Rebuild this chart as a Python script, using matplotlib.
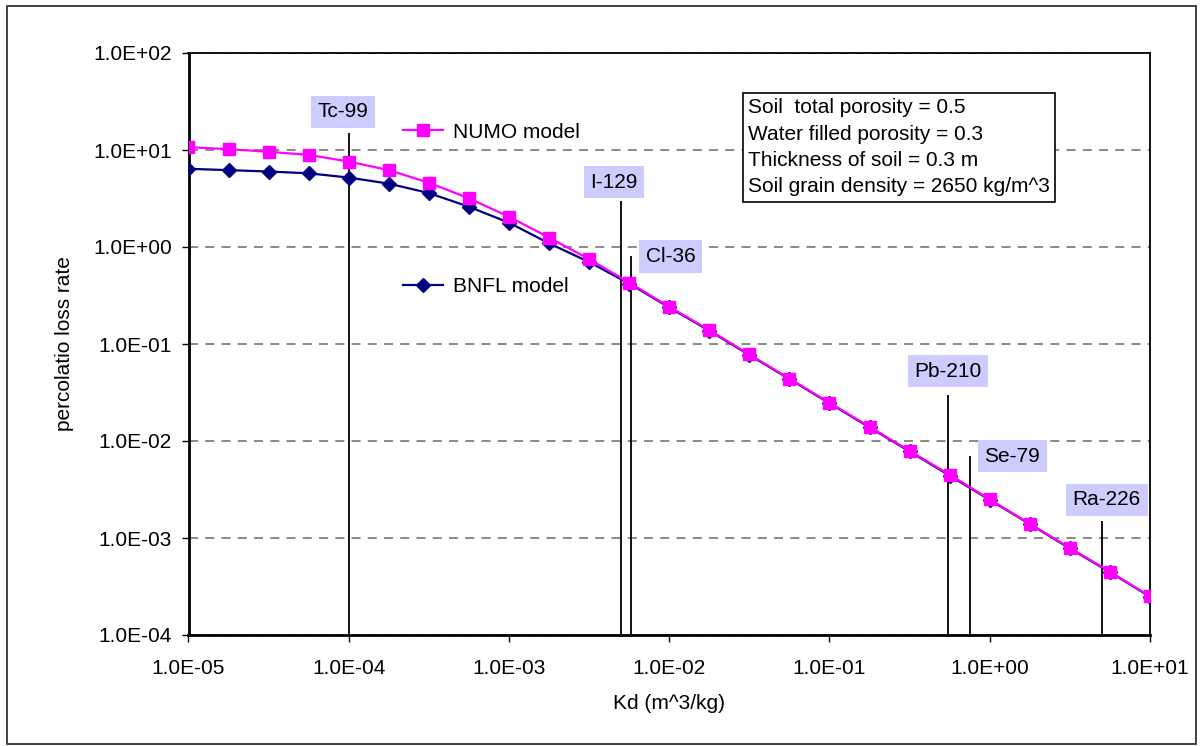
import matplotlib
matplotlib.use("Agg")
import matplotlib.pyplot as plt
from matplotlib.patches import Rectangle
from matplotlib.ticker import FixedLocator, FuncFormatter, NullLocator

plt.rcParams['font.family'] = ['Liberation Sans', 'DejaVu Sans']

# ---------------- data ----------------
kd = [1.0e-5, 1.78e-5, 3.16e-5, 5.62e-5,
      1.0e-4, 1.78e-4, 3.16e-4, 5.62e-4,
      1.0e-3, 1.78e-3, 3.16e-3, 5.62e-3,
      1.0e-2, 1.78e-2, 3.16e-2, 5.62e-2,
      1.0e-1, 1.78e-1, 3.16e-1, 5.62e-1,
      1.0, 1.78, 3.16, 5.62, 10.0]

numo = [10.7, 10.2, 9.6, 8.9,
        7.6, 6.2, 4.6, 3.18,
        2.05, 1.25, 0.75, 0.43,
        0.242, 0.139, 0.078, 0.044,
        0.0248, 0.014, 0.0079, 0.0045,
        0.0025, 0.0014, 0.00079, 0.00045, 0.00025]

bnfl = [6.4, 6.2, 6.0, 5.75,
        5.2, 4.5, 3.6, 2.6,
        1.78, 1.09, 0.70, 0.42,
        0.238, 0.137, 0.077, 0.0435,
        0.0245, 0.0138, 0.0078, 0.0044,
        0.00247, 0.00139, 0.00078, 0.000445, 0.000248]

nuclides = ['Tc-99', 'I-129', 'Cl-36', 'Pb-210', 'Se-79', 'Ra-226']
nuclide_kd = [1.0e-4, 5.0e-3, 5.75e-3, 0.55, 0.75, 5.0]
nuclide_top = [15.0, 3.0, 0.8, 0.03, 0.007, 0.0015]

x_ticks = [1e-5, 1e-4, 1e-3, 1e-2, 1e-1, 1e0, 1e1]
y_ticks = [1e-4, 1e-3, 1e-2, 1e-1, 1e0, 1e1, 1e2]

info_lines = ["Soil  total porosity = 0.5",
              "Water filled porosity = 0.3",
              "Thickness of soil = 0.3 m",
              "Soil grain density = 2650 kg/m^3"]

# ---------------- figure ----------------
W, H = 1200, 746
fig = plt.figure(figsize=(W / 100, H / 100), dpi=100)
ax = fig.add_axes([188.5 / W, 1 - 635 / H, (1150 - 188.5) / W, (635 - 53) / H])

ax.set_xscale('log')
ax.set_yscale('log')
ax.set_xlim(1e-5, 1e1)
ax.set_ylim(1e-4, 1e2)

def fmt(v, pos):
    return "%.1E" % v

ax.xaxis.set_major_locator(FixedLocator(x_ticks))
ax.yaxis.set_major_locator(FixedLocator(y_ticks))
ax.xaxis.set_minor_locator(NullLocator())
ax.yaxis.set_minor_locator(NullLocator())
ax.xaxis.set_major_formatter(FuncFormatter(fmt))
ax.yaxis.set_major_formatter(FuncFormatter(fmt))
ax.tick_params(axis='both', direction='out', length=5, width=1.0, labelsize=15, colors='black')
ax.tick_params(axis='x', pad=12)
ax.tick_params(axis='y', pad=7)

for s in ['left', 'bottom']:
    ax.spines[s].set_linewidth(2.0)
for s in ['top', 'right']:
    ax.spines[s].set_linewidth(1.3)

ax.yaxis.grid(True, which='major', color='#808080', linestyle=(0, (5, 4)), linewidth=1.3)
ax.set_axisbelow(True)

# isotope vertical lines
ax.vlines(nuclide_kd, 1e-4, nuclide_top, colors='black', linewidth=1.3, zorder=2)

# curves
l_bnfl, = ax.plot(kd, bnfl, color='#000080', marker='D', markersize=7,
                  linewidth=1.6, label='BNFL model', zorder=3)
l_numo, = ax.plot(kd, numo, color='#FF00FF', marker='s', markersize=8,
                  linewidth=1.6, label='NUMO model', zorder=4)

# inline legends
leg1 = ax.legend(handles=[l_numo], loc='center left',
                 bbox_to_anchor=((403 - 188.5) / 961.5, (635 - 132) / 582),
                 frameon=False, fontsize=15, borderpad=0, borderaxespad=0,
                 handlelength=1.9, handletextpad=0.5)
ax.add_artist(leg1)
leg2 = ax.legend(handles=[l_bnfl], loc='center left',
                 bbox_to_anchor=((403 - 188.5) / 961.5, (635 - 287) / 582),
                 frameon=False, fontsize=15, borderpad=0, borderaxespad=0,
                 handlelength=1.9, handletextpad=0.5)

# nuclide labels (offsets in pixels from the top of each line)
offsets_px = [(-5.5, 21), (-7, 18.5), (40, 0), (0, 23.5), (42.5, 0), (5, 21)]
for name, x, top, (dx, dy) in zip(nuclides, nuclide_kd, nuclide_top, offsets_px):
    ax.annotate(name, xy=(x, top), xytext=(dx * 0.72, dy * 0.72),
                textcoords='offset points', ha='center', va='center',
                fontsize=15, zorder=5,
                bbox=dict(boxstyle='square,pad=0.32', fc='#CCCCFF', ec='none'))

# info box
ax.text((748 - 188.5) / 961.5, (635 - 98) / 582, "\n".join(info_lines),
        transform=ax.transAxes, ha='left', va='top', fontsize=15,
        linespacing=1.5, zorder=6,
        bbox=dict(boxstyle='square,pad=0.25', fc='white', ec='black', lw=1.2))

ax.set_xlabel('Kd (m^3/kg)', fontsize=15, labelpad=12)
ax.set_ylabel('percolatio loss rate', fontsize=15, labelpad=14)

# figure border
fig.patches.append(Rectangle((7 / W, 1 - 744 / H), (1196 - 7) / W, (744 - 6) / H,
                             transform=fig.transFigure, fill=False,
                             edgecolor='#333333', linewidth=1.3))

fig.savefig('out.png', dpi=100)
